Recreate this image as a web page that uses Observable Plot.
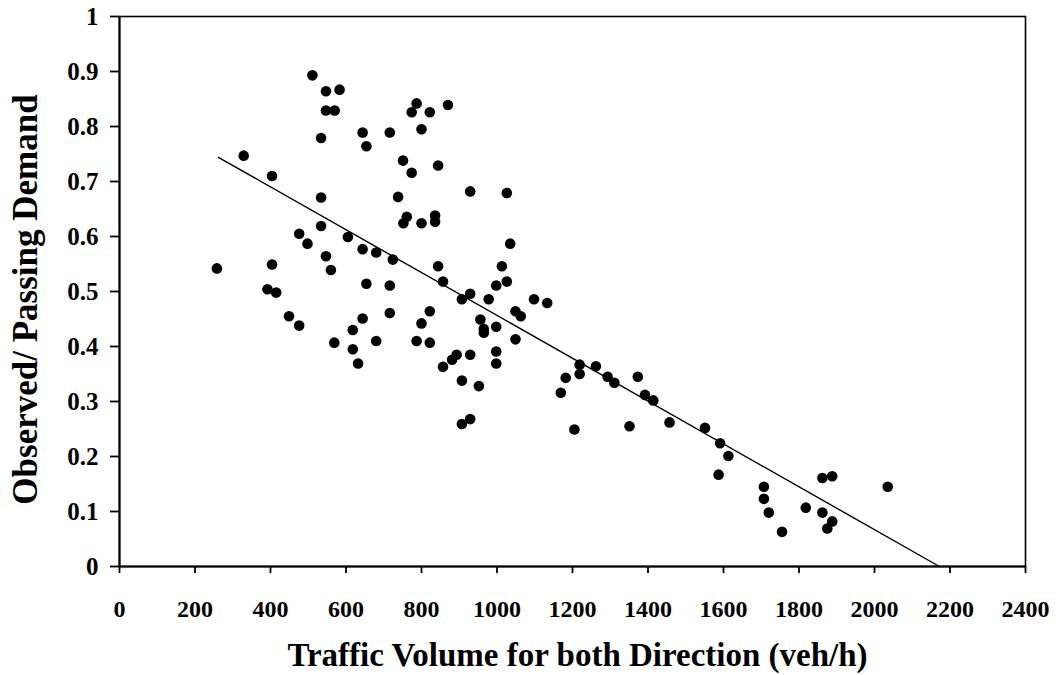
<!DOCTYPE html>
<html>
<head>
<meta charset="utf-8">
<script src="https://cdn.jsdelivr.net/npm/d3@7"></script>
<script src="https://cdn.jsdelivr.net/npm/@observablehq/plot@0.6"></script>
<style>
  html, body { margin: 0; padding: 0; background: #fff; }
</style>
</head>
<body>
<div id="chart"></div>
<script>
// Observed points: traffic volume (veh/h) and observed/passing demand ratio
const volume = [
  511, 547, 583, 547, 570, 534, 644, 716, 654, 787, 774, 822, 870, 800, 329, 404,
  751, 774, 844, 929, 534, 738, 761, 752, 800, 836, 836, 534, 605, 476, 498, 644,
  680, 724, 547, 560, 258, 404, 392, 415, 654, 716, 844, 857, 929, 907, 978, 998,
  449, 476, 644, 716, 822, 800, 618, 956, 965, 965, 998, 569, 680, 787, 822, 618,
  632, 857, 881, 893, 929, 998, 998, 907, 1026, 1035, 1013, 1026, 1098, 1133, 1049, 1063,
  1049, 1219, 1219, 1262, 1182, 1293, 1373, 952, 907, 929, 1169, 1205, 1311, 1351, 1392, 1414,
  1457, 1551, 1591, 1613, 1587, 1707, 1707, 1720, 1755, 1818, 1862, 1888, 1862, 1888, 1875, 2035
];
const ratio = [
  0.893, 0.864, 0.867, 0.829, 0.829, 0.779, 0.789, 0.789, 0.764, 0.842, 0.826, 0.826, 0.839, 0.795, 0.747, 0.710,
  0.738, 0.716, 0.729, 0.682, 0.671, 0.672, 0.636, 0.624, 0.624, 0.638, 0.627, 0.619, 0.599, 0.605, 0.587, 0.577,
  0.571, 0.558, 0.564, 0.539, 0.542, 0.549, 0.504, 0.498, 0.514, 0.511, 0.546, 0.518, 0.496, 0.486, 0.486, 0.511,
  0.455, 0.438, 0.451, 0.461, 0.464, 0.442, 0.430, 0.449, 0.432, 0.425, 0.436, 0.407, 0.410, 0.410, 0.407, 0.395,
  0.369, 0.363, 0.376, 0.385, 0.385, 0.391, 0.369, 0.338, 0.679, 0.587, 0.546, 0.518, 0.486, 0.479, 0.464, 0.455,
  0.413, 0.367, 0.350, 0.364, 0.343, 0.345, 0.345, 0.328, 0.259, 0.268, 0.316, 0.249, 0.334, 0.255, 0.312, 0.302,
  0.262, 0.252, 0.224, 0.201, 0.167, 0.145, 0.123, 0.098, 0.063, 0.107, 0.161, 0.164, 0.098, 0.082, 0.069, 0.145
];
// Fitted trend line end points
const trendVolume = [262, 2172];
const trendRatio = [0.744, 0];
// Ticks
const xTicks = [0, 200, 400, 600, 800, 1000, 1200, 1400, 1600, 1800, 2000, 2200, 2400];
const yTicks = [0, 0.1, 0.2, 0.3, 0.4, 0.5, 0.6, 0.7, 0.8, 0.9, 1];
const xTitle = "Traffic Volume for both Direction (veh/h)";
const yTitle = "Observed/ Passing Demand";

const points = volume.map((v, i) => ({volume: v, ratio: ratio[i]}));
const trend = trendVolume.map((v, i) => ({volume: v, ratio: trendRatio[i]}));

const font = "'Liberation Serif', 'Times New Roman', serif";

const chart = Plot.plot({
  width: 1056,
  height: 675,
  marginLeft: 119,
  marginRight: 31,
  marginTop: 16,
  marginBottom: 109,
  style: {fontFamily: font, fontWeight: "bold", color: "#000", background: "#fff", overflow: "visible"},
  x: {domain: [0, 2400]},
  y: {domain: [0, 1]},
  marks: [
    Plot.frame({stroke: "#000", strokeWidth: 1.6}),
    Plot.axisX({
      ticks: xTicks, tickSize: 7, tickPadding: 26, fontSize: 24, fontWeight: "bold",
      strokeWidth: 1.8, label: null, tickFormat: d => String(d)
    }),
    Plot.axisY({
      ticks: yTicks, tickSize: 9, tickPadding: 12, fontSize: 25, fontWeight: "bold",
      strokeWidth: 1.8, label: null, tickFormat: d => String(+d.toFixed(1))
    }),
    Plot.ruleX([0], {stroke: "#000", strokeWidth: 2}),
    Plot.ruleY([0], {stroke: "#000", strokeWidth: 2}),
    Plot.line(trend, {x: "volume", y: "ratio", stroke: "#000", strokeWidth: 1.4}),
    Plot.dot(points, {x: "volume", y: "ratio", r: 5.3, fill: "#000", stroke: "none"}),
    Plot.text([xTitle], {
      frameAnchor: "bottom", dy: 89, dx: 5, fontSize: 33, fontWeight: "bold",
      textAnchor: "middle", lineAnchor: "middle", fill: "#000"
    }),
    Plot.text([yTitle], {
      frameAnchor: "left", dx: -94, dy: 8, rotate: -90, fontSize: 35, fontWeight: "bold",
      textAnchor: "middle", lineAnchor: "middle", fill: "#000"
    })
  ]
});
document.getElementById("chart").appendChild(chart);
</script>
</body>
</html>
